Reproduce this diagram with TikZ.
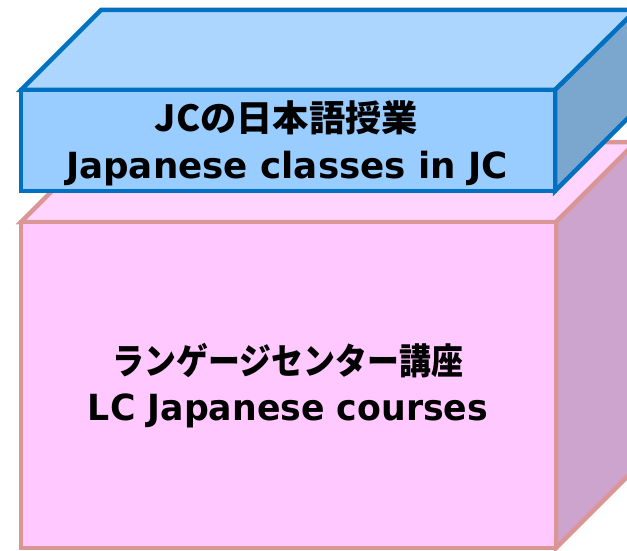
\documentclass[tikz,border=0pt]{standalone}
\usepackage{fontspec}
\newfontfamily\jfont{Noto Sans CJK JP}
\newfontfamily\lfont{DejaVu Sans}
\definecolor{bfront}{HTML}{99CCFF}
\definecolor{btop}{HTML}{ADD6FF}
\definecolor{bside}{HTML}{7BA7CF}
\definecolor{bline}{HTML}{0070C0}
\definecolor{pfront}{HTML}{FFC9FF}
\definecolor{ptop}{HTML}{FFD4FF}
\definecolor{pside}{HTML}{CDA4CE}
\definecolor{pline}{HTML}{D99694}
\tikzset{
  bluebox/.style={draw=bline, line width=4.5pt, line join=miter},
  pinkbox/.style={draw=pline, line width=4.5pt, line join=miter},
  jline/.style={font=\jfont\bfseries\fontsize{36}{40}\selectfont, anchor=base, inner sep=0pt, text=black},
  eline/.style={font=\lfont\bfseries\fontsize{36}{40}\selectfont, anchor=base, inner sep=0pt, text=black}
}
\begin{document}
\begin{tikzpicture}[x=1pt,y=-1pt]
\useasboundingbox (0,0) rectangle (627,551);
\clip (0,0) rectangle (627,551);
% pink box
\filldraw[pinkbox, fill=ptop] (21,222) -- (101,142) -- (640,142) -- (556,222) -- cycle;
\filldraw[pinkbox, fill=pside] (556,222) -- (636,142) -- (636,468) -- (556,548) -- cycle;
\filldraw[pinkbox, fill=pfront] (21,222) rectangle (556,548);
% blue box
\filldraw[bluebox, fill=btop] (21,90) -- (101,10) -- (640,10) -- (555,90) -- cycle;
\filldraw[bluebox, fill=bside] (555,90) -- (636,10) -- (636,110) -- (555,191) -- cycle;
\filldraw[bluebox, fill=bfront] (21,90) rectangle (555,191);
% texts
\node[jline] (jc1) at (286.5,131) {\resizebox{263pt}{\height}{JCの日本語授業}};
\node[eline] (jc2) at (287,178) {\resizebox{442pt}{\height}{Japanese classes in JC}};
\node[jline] (lc1) at (288,374) {\resizebox{350pt}{\height}{ランゲージセンター講座}};
\node[eline] (lc2) at (288,420) {\resizebox{400pt}{\height}{LC Japanese courses}};
\end{tikzpicture}
\end{document}
